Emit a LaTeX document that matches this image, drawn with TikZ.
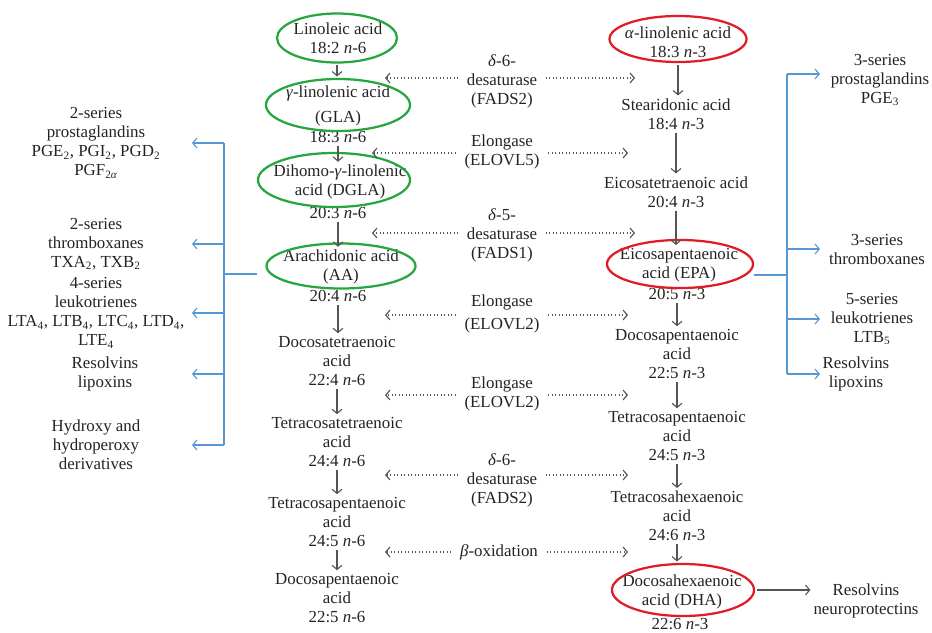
\documentclass[tikz,border=0pt]{standalone}
\usepackage{fontspec}
\setmainfont{Liberation Serif}
\usetikzlibrary{shapes.geometric,arrows.meta}

\definecolor{ringgreen}{RGB}{38,166,62}
\definecolor{ringred}{RGB}{224,28,38}
\definecolor{linkblue}{RGB}{86,152,214}
\definecolor{stepgray}{RGB}{85,85,85}
\definecolor{inkgray}{RGB}{35,35,35}

\begin{document}
\begin{tikzpicture}[x=0.025cm, y=-0.025cm,
	every node/.style={text=inkgray, font=\fontsize{12}{13.5}\selectfont},
	acid/.style={align=center, inner sep=1pt},
	ring6/.style={draw=ringgreen, ellipse, line width=1.6pt, inner sep=0pt},
	ring3/.style={draw=ringred, ellipse, line width=1.6pt, inner sep=0pt},
	conv/.style={draw=stepgray, line width=0.8pt, shorten <=1pt, shorten >=1pt, -{Straight Barb[length=3pt,width=7pt]}},
	enz/.style={draw=stepgray, line width=0.8pt, dash pattern=on 0.7pt off 1.8pt, shorten <=5pt, -{Straight Barb[length=3pt,width=7pt]}},
	omega/.style={draw=linkblue, line width=0.8pt},
	branch/.style={omega, -{Straight Barb[length=3pt,width=7pt]}}]
			\useasboundingbox (0,0) rectangle (932,632);
			
			% n-6 column
			\node[acid] (la) at (338,38) {Linoleic acid\\18:2 \textit{n}-6};
			\node[acid] (gla) at (338,106) {\textit{γ}-linolenic acid\\[4pt](GLA)};
			\node[acid] (glaf) at (338,137) {18:3 \textit{n}-6};
			\node[acid] (dgla) at (340,182) {Dihomo-\textit{γ}-linolenic\\acid (DGLA)};
			\node[acid] (dglaf) at (338,213) {20:3 \textit{n}-6};
			\node[acid] (aa) at (341,267) {Arachidonic acid\\(AA)};
			\node[acid] (aaf) at (338,296) {20:4 \textit{n}-6};
			\node[acid] (dta) at (337,361) {Docosatetraenoic\\acid\\22:4 \textit{n}-6};
			\node[acid] (tta) at (337,442) {Tetracosatetraenoic\\acid\\24:4 \textit{n}-6};
			\node[acid] (tpa6) at (337,522) {Tetracosapentaenoic\\acid\\24:5 \textit{n}-6};
			\node[acid] (dpa6) at (337,598) {Docosapentaenoic\\acid\\22:5 \textit{n}-6};
			
			\node[ring6, minimum width=3cm, minimum height=1.225cm] (laO) at (337,38) {};
			\node[ring6, minimum width=3.6cm, minimum height=1.3cm] (glaO) at (338,105) {};
			\node[ring6, minimum width=3.8cm, minimum height=1.35cm] (dglaO) at (334,180) {};
			\node[ring6, minimum width=3.725cm, minimum height=1.125cm] (aaO) at (341,266) {};
			
			% n-3 column
			\node[acid] (ala) at (678,42) {\textit{α}-linolenic acid\\18:3 \textit{n}-3};
			\node[acid] (sda) at (676,114) {Stearidonic acid\\18:4 \textit{n}-3};
			\node[acid] (eta) at (676,192) {Eicosatetraenoic acid\\20:4 \textit{n}-3};
			\node[acid] (epa) at (679,265) {Eicosapentaenoic\\acid (EPA)};
			\node[acid] (epaf) at (677,294) {20:5 \textit{n}-3};
			\node[acid] (dpa3) at (677,354) {Docosapentaenoic\\acid\\22:5 \textit{n}-3};
			\node[acid] (tpa3) at (677,436) {Tetracosapentaenoic\\acid\\24:5 \textit{n}-3};
			\node[acid] (tha) at (677,516) {Tetracosahexaenoic\\acid\\24:6 \textit{n}-3};
			\node[acid] (dha) at (682,592) {Docosahexaenoic\\acid (DHA)};
			\node[acid] (dhaf) at (680,624) {22:6 \textit{n}-3};
			
			\node[ring3, minimum width=3.425cm, minimum height=1.15cm] (alaO) at (678,39) {};
			\node[ring3, minimum width=3.65cm, minimum height=1.2cm] (epaO) at (680,264) {};
			\node[ring3, minimum width=3.55cm, minimum height=1.3cm] (dhaO) at (683,590) {};
			
			% enzymes
			\node[acid] (d6a) at (502,81) {\textit{δ}-6-\\desaturase\\(FADS2)};
			\node[acid] (el5) at (502,152) {Elongase\\(ELOVL5)};
			\node[acid] (d5) at (502,235) {\textit{δ}-5-\\desaturase\\(FADS1)};
			\node[acid] (el2a) at (502,314) {Elongase\\[3pt](ELOVL2)};
			\node[acid] (el2b) at (502,394) {Elongase\\(ELOVL2)};
			\node[acid] (d6b) at (502,480) {\textit{δ}-6-\\desaturase\\(FADS2)};
			\node[acid] (box) at (499,552) {\textit{β}-oxidation};
			
			% eicosanoids
			\node[acid] (pg2) at (96,143) {2-series\\prostaglandins\\PGE\textsubscript{2}, PGI\textsubscript{2}, PGD\textsubscript{2}\\PGF\textsubscript{2\textit{α}}};
			\node[acid] (tx2) at (96,244) {2-series\\thromboxanes\\TXA\textsubscript{2}, TXB\textsubscript{2}};
			\node[acid] (lt4) at (96,313) {4-series\\leukotrienes\\LTA\textsubscript{4}, LTB\textsubscript{4}, LTC\textsubscript{4}, LTD\textsubscript{4},\\LTE\textsubscript{4}};
			\node[acid] (rl2) at (105,374) {Resolvins\\lipoxins};
			\node[acid] (hx) at (96,445) {Hydroxy and\\hydroperoxy\\derivatives};
			
			\node[acid] (pg3) at (880,80) {3-series\\prostaglandins\\PGE\textsubscript{3}};
			\node[acid] (tx3) at (877,249) {3-series\\thromboxanes};
			\node[acid] (lt5) at (872,319) {5-series\\leukotrienes\\LTB\textsubscript{5}};
			\node[acid] (rl3) at (856,374) {Resolvins\\lipoxins};
			\node[acid] (rn) at (866,601) {Resolvins\\neuroprotectins};
			
			% conversions
			\foreach \a/\b in {laO/glaO, glaf/dgla, dglaf/aa, aaf/dta, dta/tta, tta/tpa6, tpa6/dpa6, alaO/sda, sda/eta, eta/epa, epaf/dpa3, dpa3/tpa3, tpa3/tha, tha/dhaO}
				\draw[conv] (\a.south) -- (\a.south |- \b.north);
			\draw[conv] (dhaO.east) -- (dhaO.east -| rn.west);
			
			\foreach \e/\y/\l/\r in {d6a/78/385/635, el5/153/372/628, d5/233/372/635, el2a/315/385/628, el2b/395/385/628, d6b/475/385/628, box/552/385/628} {
				\coordinate (\e-l) at (\l,\y);
				\coordinate (\e-r) at (\r,\y);
				\draw[enz] (\e.west |- \e-l) -- (\e-l);
				\draw[enz] (\e.east |- \e-r) -- (\e-r);
			}
			
			% omega-6 products
			\coordinate (jl) at (224,274);
			\coordinate (ltip) at (192,274);
			\draw[omega] (jl |- pg2) -- (jl |- hx);
			\draw[omega, shorten >=6pt] (jl) -- (aaO.west |- jl);
			\foreach \t in {pg2,tx2,lt4,rl2,hx}
				\draw[branch] (jl |- \t) -- (ltip |- \t);
			
			% omega-3 products
			\coordinate (jr) at (787,275);
			\coordinate (rtip) at (820,275);
			\draw[omega] ([yshift=0.15cm]jr |- pg3) -- (jr |- rl3);
			\draw[omega] (epaO.east |- jr) -- (jr);
			\draw[branch] ([yshift=0.15cm]jr |- pg3) -- ([yshift=0.15cm]rtip |- pg3);
			\foreach \t in {tx3,lt5,rl3}
				\draw[branch] (jr |- \t) -- (rtip |- \t);
			
\end{tikzpicture}
\end{document}
